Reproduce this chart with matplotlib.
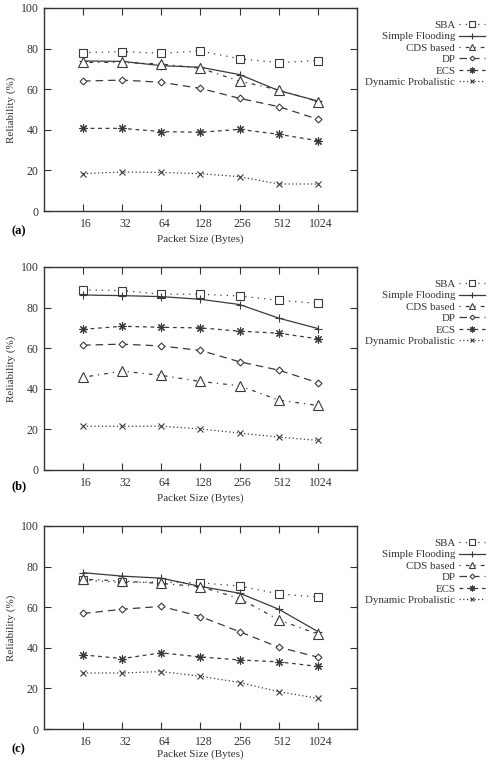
import numpy as np
import matplotlib.pyplot as plt
from matplotlib.transforms import ScaledTranslation

plt.rcParams['font.family'] = 'Liberation Serif'
plt.rcParams['font.size'] = 8

sizes = ['16', '32', '64', '128', '256', '512', '1024']
series = ['SBA', 'Simple Flooding', 'CDS based', 'DP', 'ECS', 'Dynamic Probalistic']

# (a)
sba_a = [78.0, 78.5, 77.7, 78.8, 75.0, 73.1, 74.1]
sf_a = [73.9, 73.7, 71.6, 70.8, 67.2, 59.3, 54.2]
cds_a = [73.2, 73.2, 72.4, 70.3, 64.0, 59.6, 53.9]
dp_a = [64.0, 64.5, 63.4, 60.4, 55.5, 51.4, 45.2]
ecs_a = [40.7, 40.7, 39.1, 38.8, 40.2, 37.8, 34.6]
dyn_a = [18.4, 19.2, 19.0, 18.4, 16.9, 13.3, 13.3]

# (b)
sba_b = [88.7, 88.4, 86.6, 86.6, 85.7, 83.6, 82.1]
sf_b = [86.2, 85.9, 85.4, 84.1, 81.5, 74.8, 69.7]
cds_b = [45.7, 48.7, 46.6, 43.6, 41.5, 34.4, 31.8]
dp_b = [61.5, 62.0, 61.1, 58.9, 53.3, 49.2, 43.0]
ecs_b = [69.3, 70.8, 70.3, 70.0, 68.4, 67.4, 64.6]
dyn_b = [21.6, 21.5, 21.6, 20.2, 18.2, 16.2, 14.6]

# (c)
sba_c = [73.4, 72.2, 72.4, 72.0, 70.4, 66.6, 65.0]
sf_c = [77.0, 75.3, 74.3, 70.2, 66.9, 59.0, 48.0]
cds_c = [73.8, 72.9, 71.7, 70.1, 64.3, 53.8, 46.7]
dp_c = [56.9, 59.0, 60.4, 55.4, 47.9, 40.3, 35.4]
ecs_c = [36.5, 34.7, 37.5, 35.5, 34.0, 33.1, 30.8]
dyn_c = [27.6, 27.6, 28.3, 26.0, 22.9, 18.4, 15.1]

panels = [
    ('(a)', [sba_a, sf_a, cds_a, dp_a, ecs_a, dyn_a]),
    ('(b)', [sba_b, sf_b, cds_b, dp_b, ecs_b, dyn_b]),
    ('(c)', [sba_c, sf_c, cds_c, dp_c, ecs_c, dyn_c]),
]

styles = [
    dict(ls=(0, (1, 4)), marker='s', ms=6),
    dict(ls='-', marker='+', ms=6),
    dict(ls=(0, (1, 4, 3, 4)), marker='^', ms=7),
    dict(ls=(0, (6, 4)), marker='D', ms=3.5),
    dict(ls=(0, (3, 3)), marker=(8, 2, 0), ms=6),
    dict(ls=(0, (1, 2)), marker='x', ms=5),
]
col = '#3a3a3a'
txt = '#333333'

W, H = 499, 763
fig = plt.figure(figsize=(W / 100, H / 100), dpi=100)

# top/bottom pixel rows of each plot area, tag offset, xlabel pad
boxes = [(8, 211, 20, 3), (267, 470, 16, 3), (526, 729, 20, 1)]
x = np.arange(1, len(sizes) + 1)

for (lab, data), (top, bot, tag, xpad) in zip(panels, boxes):
    ax = fig.add_axes([44 / W, (H - bot) / H, 313 / W, (bot - top) / H])
    handles = []
    for name, vals, st in zip(series, data, styles):
        h, = ax.plot(x, vals, color=col, lw=0.9, ls=st['ls'], marker=st['marker'],
                     ms=st['ms'], mfc='white' if st['marker'] in ('s', '^', 'D') else col,
                     mec=col, mew=0.8, label=name)
        handles.append(h)
    ax.set_xlim(0, 8)
    ax.set_ylim(0, 100)
    ax.set_xticks(x)
    ax.set_xticklabels(sizes)
    ax.set_yticks(range(0, 101, 20))
    ax.tick_params(direction='in', length=5, width=0.8, top=True, right=True,
                   colors=txt, labelsize=8.5)
    ax.tick_params(axis='x', pad=5)
    ax.tick_params(axis='y', pad=4)
    # gnuplot puts the x labels a little to the right of their ticks
    for t in ax.get_xticklabels():
        t.set_transform(t.get_transform() + ScaledTranslation(3 / 100, 0, fig.dpi_scale_trans))
    for s in ax.spines.values():
        s.set_color(txt)
        s.set_linewidth(1.0)
    ax.set_ylabel('Reliability (%)', fontsize=8, color=txt, labelpad=3)
    ax.set_xlabel('Packet Size (Bytes)', fontsize=8, color=txt, labelpad=xpad)
    fig.text(12 / W, 1 - (bot + tag) / H, lab, fontsize=9, fontweight='bold',
             ha='left', va='center')
    fig.legend(handles=handles, loc='upper right', markerfirst=False, frameon=False,
               bbox_to_anchor=(490 / W, 1 - (top + 7) / H), fontsize=7.8,
               handlelength=2.4, handletextpad=0.3, labelspacing=0.17,
               borderpad=0, labelcolor=txt, markerscale=0.7)

fig.savefig('out.png', dpi=100)
